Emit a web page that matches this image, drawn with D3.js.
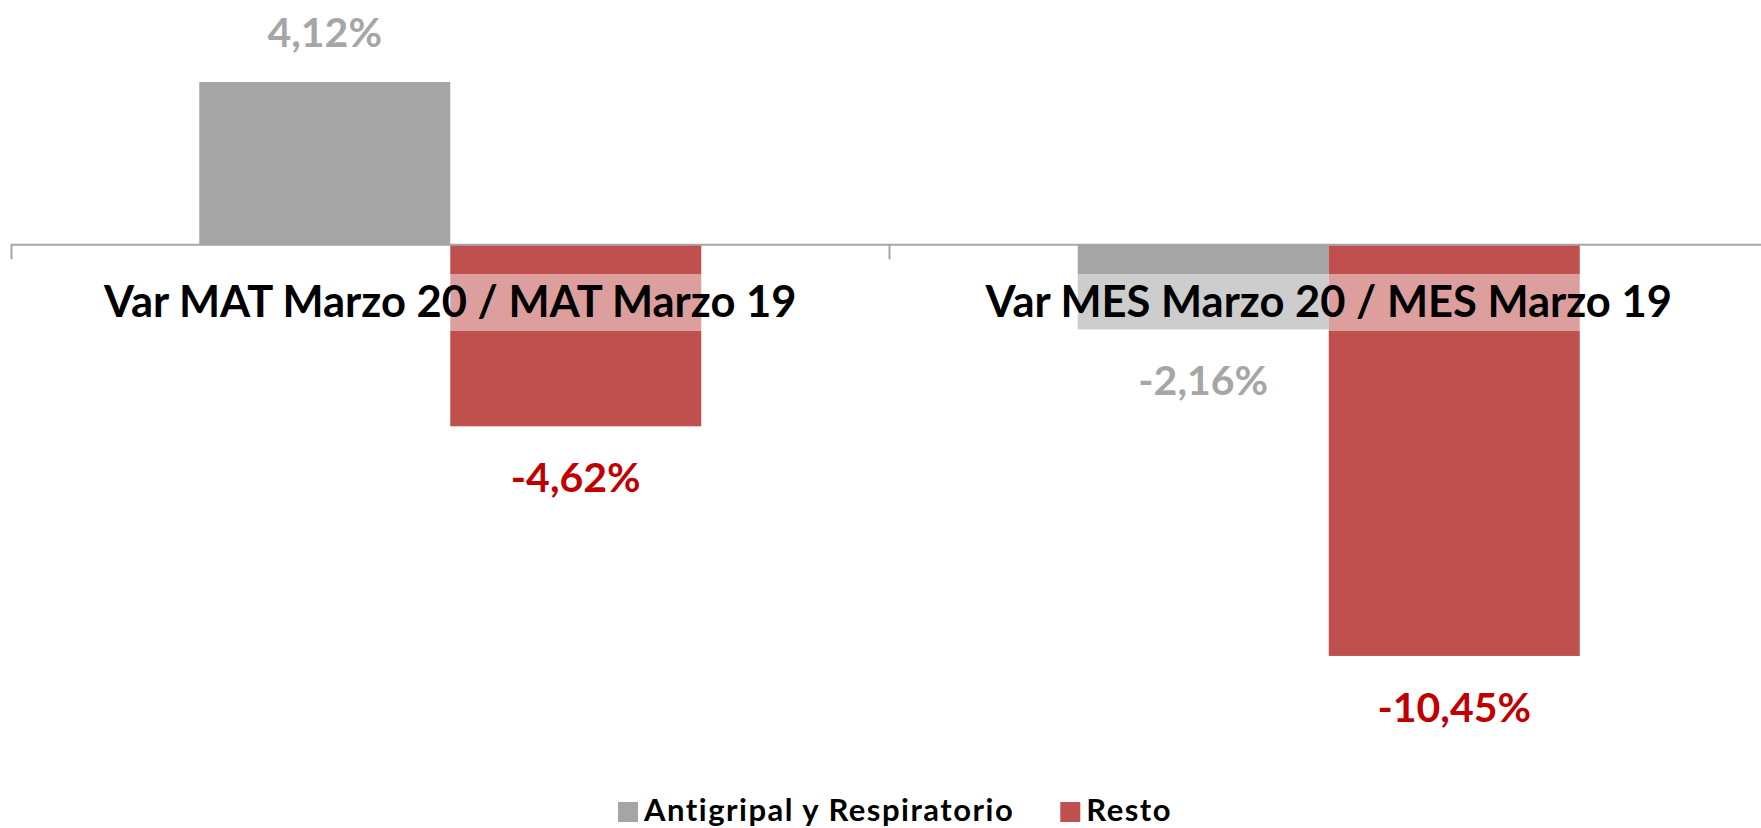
<!DOCTYPE html>
<html>
<head>
<meta charset="utf-8">
<script src="https://cdn.jsdelivr.net/npm/d3@7"></script>
<style>
  html, body { margin: 0; padding: 0; background: #ffffff; }
  #chart { width: 1761px; height: 828px; }
  text { font-family: Lato, "Open Sans", sans-serif; font-weight: bold; }
</style>
</head>
<body>
<div id="chart"></div>
<script>
// data (percent units)
const categories = ["Var MAT Marzo 20 / MAT Marzo 19", "Var MES Marzo 20 / MES Marzo 19"];
const seriesNames = ["Antigripal y Respiratorio", "Resto"];
const antigripalValues = [4.12, -2.16];
const restoValues = [-4.62, -10.45];
const seriesValues = [antigripalValues, restoValues];
const yDomain = [-12, 6];

const barColors = ["#A5A5A5", "#C0504D"];
const labelColors = ["#A6A6A6", "#C00000"];

const width = 1761;
const height = 828;

const svg = d3.select("#chart")
    .append("svg")
    .attr("width", width)
    .attr("height", height);

const x0 = d3.scaleBand().domain(categories).range([11, 1768]);
const x1 = d3.scaleBand().domain(seriesNames).range([0, x0.bandwidth()]).paddingOuter(0.75);
const y = d3.scaleLinear().domain(yDomain).range([717, 8]);

const locale = d3.formatLocale({ decimal: ",", thousands: ".", grouping: [3], currency: ["", "€"], minus: "-" });
const fmt = locale.format(".2f");

const rows = [];
categories.forEach((c, i) => {
    seriesNames.forEach((s, j) => {
        rows.push({ cat: c, series: s, idx: j, value: seriesValues[j][i] });
    });
});

// bars
svg.append("g")
    .selectAll("rect")
    .data(rows)
    .join("rect")
    .attr("x", d => x0(d.cat) + x1(d.series))
    .attr("width", x1.bandwidth())
    .attr("y", d => y(Math.max(0, d.value)))
    .attr("height", d => Math.abs(y(d.value) - y(0)))
    .attr("fill", d => barColors[d.idx]);

// axis line with boundary ticks
const axisG = svg.append("g")
    .attr("transform", `translate(0,${y(0)})`)
    .call(d3.axisBottom(x0).tickSizeInner(0).tickSizeOuter(15).tickFormat(""));
axisG.select(".domain").attr("stroke", "#A6A6A6").attr("stroke-width", 2);
axisG.selectAll(".tick").remove();
axisG.append("line")
    .attr("x1", x0(categories[1]))
    .attr("x2", x0(categories[1]))
    .attr("y1", 0)
    .attr("y2", 15)
    .attr("stroke", "#A6A6A6")
    .attr("stroke-width", 2);

// category labels with translucent background
const catG = svg.append("g");
catG.selectAll("rect")
    .data(categories)
    .join("rect")
    .attr("x", d => x0(d))
    .attr("width", x0.bandwidth())
    .attr("y", 274)
    .attr("height", 57)
    .attr("fill", "#ffffff")
    .attr("opacity", 0.45);
catG.selectAll("text")
    .data(categories)
    .join("text")
    .attr("x", d => x0(d) + x0.bandwidth() / 2)
    .attr("y", 317)
    .attr("text-anchor", "middle")
    .style("font-size", "43.5px")
    .style("fill", "#000000")
    .text(d => d);

// value labels
svg.append("g")
    .selectAll("text")
    .data(rows)
    .join("text")
    .attr("x", d => x0(d.cat) + x1(d.series) + x1.bandwidth() / 2)
    .attr("y", d => d.value >= 0 ? y(d.value) - 35 : y(d.value) + 66)
    .attr("text-anchor", "middle")
    .style("font-size", "41px")
    .style("fill", d => labelColors[d.idx])
    .text(d => fmt(d.value) + "%");

// legend
const legend = svg.append("g").attr("transform", "translate(618,0)");
let lx = 0;
seriesNames.forEach((s, j) => {
    const item = legend.append("g").attr("transform", `translate(${lx},0)`);
    item.append("rect")
        .attr("x", 0)
        .attr("y", 802)
        .attr("width", 20)
        .attr("height", 20)
        .attr("fill", barColors[j]);
    const t = item.append("text")
        .attr("x", 26)
        .attr("y", 821)
        .style("font-size", "31px")
        .style("letter-spacing", "1.5px")
        .style("fill", "#000000")
        .text(s);
    lx += 26 + t.node().getComputedTextLength() + 46;
});
</script>
</body>
</html>
